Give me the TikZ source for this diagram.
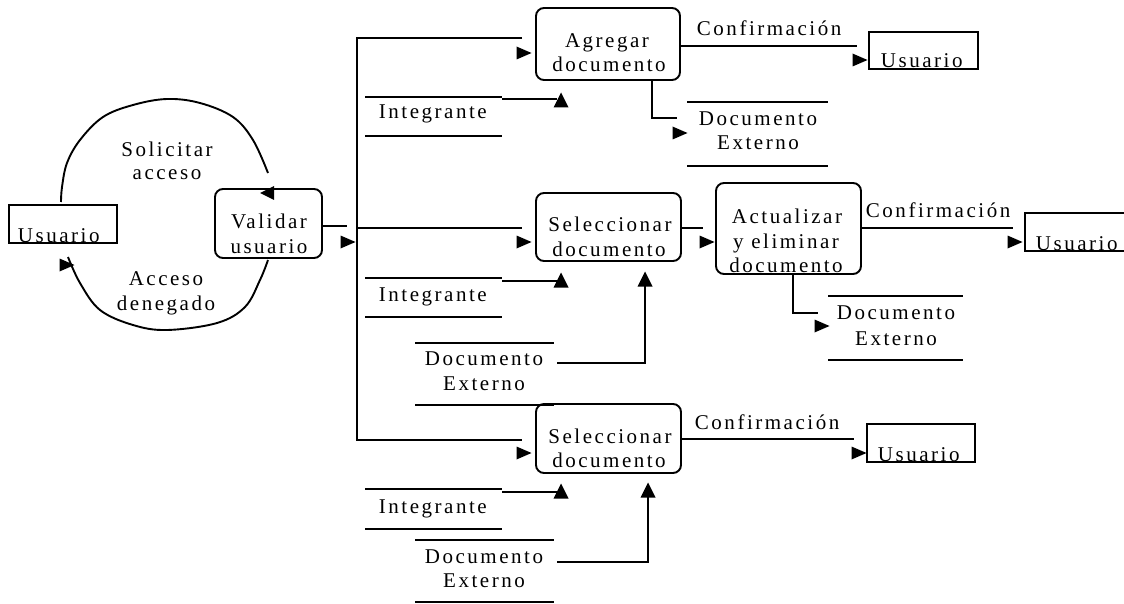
\documentclass[tikz,border=0pt]{standalone}
\usepackage{fontspec}
\setmainfont{Liberation Serif}[LetterSpace=12]
\begin{document}
\begin{tikzpicture}[x=1pt,y=-1pt,
  line width=1.9pt, line join=miter,
  txt/.style={font=\fontsize{21}{24}\selectfont, inner sep=0pt, anchor=base},
  txtl/.style={txt, anchor=base west},
  proc/.style={draw, rounded corners=8pt, inner sep=0pt, line width=1.9pt},
  ent/.style={draw, inner sep=0pt, line width=1.9pt},
  thick store/.style={line width=2.8pt},
  rtri/.pic={\fill (-7.5,-6.5) -- (7.5,0) -- (-7.5,6.5) -- cycle;},
  ltri/.pic={\fill (7,-7) -- (-7,0) -- (7,7) -- cycle;},
  utri/.pic={\fill (-7.5,7.5) -- (0,-7.5) -- (7.5,7.5) -- cycle;}]
\useasboundingbox (0,0) rectangle (1124,604);

% ---------- access loop ----------
\node[ent, minimum width=108, minimum height=38] (u0) at (63,224) {};
\node[txtl] (u0t) at (17,242) {Usuario};
\node[proc, minimum width=107, minimum height=69] (val) at (268.5,223.5) {};
\node[txt] (valA) at (269,229) {Validar};
\node[txt] (valB) at (269,253) {usuario};

\coordinate (reqS) at (61,202);
\coordinate (reqE) at (268,173);
\draw plot[smooth, tension=0.6] coordinates {(reqS) (62,187) (67,163) (80,140) (103,117) (133,105)
  (167,99) (200,103) (233,117) (253,140) (reqE)};
\pic at (267,193) {ltri};
\node[txt] (reqA) at (167,157) {Solicitar};
\node[txt] (reqB) at (167,180) {acceso};

\coordinate (denS) at (268,260);
\coordinate (denE) at (68,257);
\draw plot[smooth, tension=0.6] coordinates {(denS) (260,280) (245,307) (217,323) (167,330)
  (133,325) (100,310) (80,283) (denE)};
\pic at (67,265) {rtri};
\node[txt] (denA) at (166,285) {Acceso};
\node[txt] (denB) at (166,310) {denegado};

% ---------- distribution bus ----------
\draw (val.east |- 0,226) -- (347,226);
\pic at (348,242) {rtri};
\draw (522,38) -- (357,38) -- (357,440) -- (522,440);
\draw (357,228) -- (522,228);

% ---------- branch 1: Agregar documento ----------
\node[proc, minimum width=144, minimum height=72] (agr) at (608,44) {};
\node[txt] (agrA) at (607,48) {Agregar};
\node[txt] (agrB) at (609,72) {documento};
\pic at (524,53) {rtri};

\draw (365,97) -- (502,97);
\draw (365,136) -- (502,136);
\node[txtl] (int1) at (378,119) {Integrante};
\draw (502,99) -- (557,99);
\pic at (561,100) {utri};

\draw (652,80) -- (652,118) -- (677,118);
\pic at (680,133) {rtri};
\draw (687,102) -- (828,102);
\draw[thick store] (687,166) -- (828,166);
\node[txt] (de1A) at (758,126) {Documento};
\node[txt] (de1B) at (758,150) {Externo};

\draw (680,46) -- (857,46);
\node[txtl] (cf1) at (696,36) {Confirmación};
\pic at (860,60) {rtri};
\node[ent, minimum width=109, minimum height=37] (u1) at (923.5,50.5) {};
\node[txtl] (u1t) at (880,68) {Usuario};

% ---------- branch 2: Seleccionar / Actualizar ----------
\pic at (524,242) {rtri};
\node[proc, minimum width=145, minimum height=68] (sel1) at (608.5,227) {};
\node[txt] (sel1A) at (610,232) {Seleccionar};
\node[txt] (sel1B) at (609,256) {documento};

\draw (365,278) -- (502,278);
\draw (365,317) -- (502,317);
\node[txtl] (int2) at (378,301) {Integrante};
\draw (502,281) -- (557,281);
\pic at (561,280) {utri};

\draw (415,343) -- (554,343);
\draw (415,405) -- (554,405);
\node[txt] (de2A) at (484,365) {Documento};
\node[txt] (de2B) at (484,390) {Externo};
\draw (557,363) -- (645,363) -- (645,283);
\pic at (645,279) {utri};

\draw (681,228) -- (703,228);
\pic at (707,242) {rtri};
\node[proc, minimum width=145, minimum height=91] (act) at (788.5,228.5) {};
\node[txt] (actA) at (787,223) {Actualizar};
\node[txt] (actB) at (786,248) {y eliminar};
\node[txt] (actC) at (786,272) {documento};

\draw (861,228) -- (1013,228);
\node[txtl] (cf2) at (865,218) {Confirmación};
\pic at (1015,242) {rtri};
\node[ent, minimum width=110, minimum height=38] (u2) at (1080,232) {};
\node[txtl] (u2t) at (1035,250) {Usuario};

\draw (793,274) -- (793,313) -- (818,313);
\pic at (822,326) {rtri};
\draw (828,296) -- (963,296);
\draw[thick store] (828,360) -- (963,360);
\node[txt] (de3A) at (896,319) {Documento};
\node[txt] (de3B) at (896,345) {Externo};

% ---------- branch 3: Seleccionar documento ----------
\pic at (524,453) {rtri};
\node[proc, minimum width=145, minimum height=69] (sel2) at (608.5,438.5) {};
\node[txt] (sel2A) at (610,443) {Seleccionar};
\node[txt] (sel2B) at (609,467) {documento};

\draw (365,489) -- (502,489);
\draw[thick store] (365,529) -- (502,529);
\node[txtl] (int3) at (378,513) {Integrante};
\draw (502,492) -- (557,492);
\pic at (561,491) {utri};

\draw[thick store] (415,540) -- (554,540);
\draw (415,602) -- (554,602);
\node[txt] (de4A) at (484,563) {Documento};
\node[txt] (de4B) at (484,587) {Externo};
\draw (557,562) -- (648,562) -- (648,497);
\pic at (648,490) {utri};

\draw (681,439) -- (854,439);
\node[txtl] (cf3) at (694,429) {Confirmación};
\pic at (859,453) {rtri};
\node[ent, minimum width=108, minimum height=38] (u3) at (921,443) {};
\node[txtl] (u3t) at (877,461) {Usuario};
\end{tikzpicture}
\end{document}
